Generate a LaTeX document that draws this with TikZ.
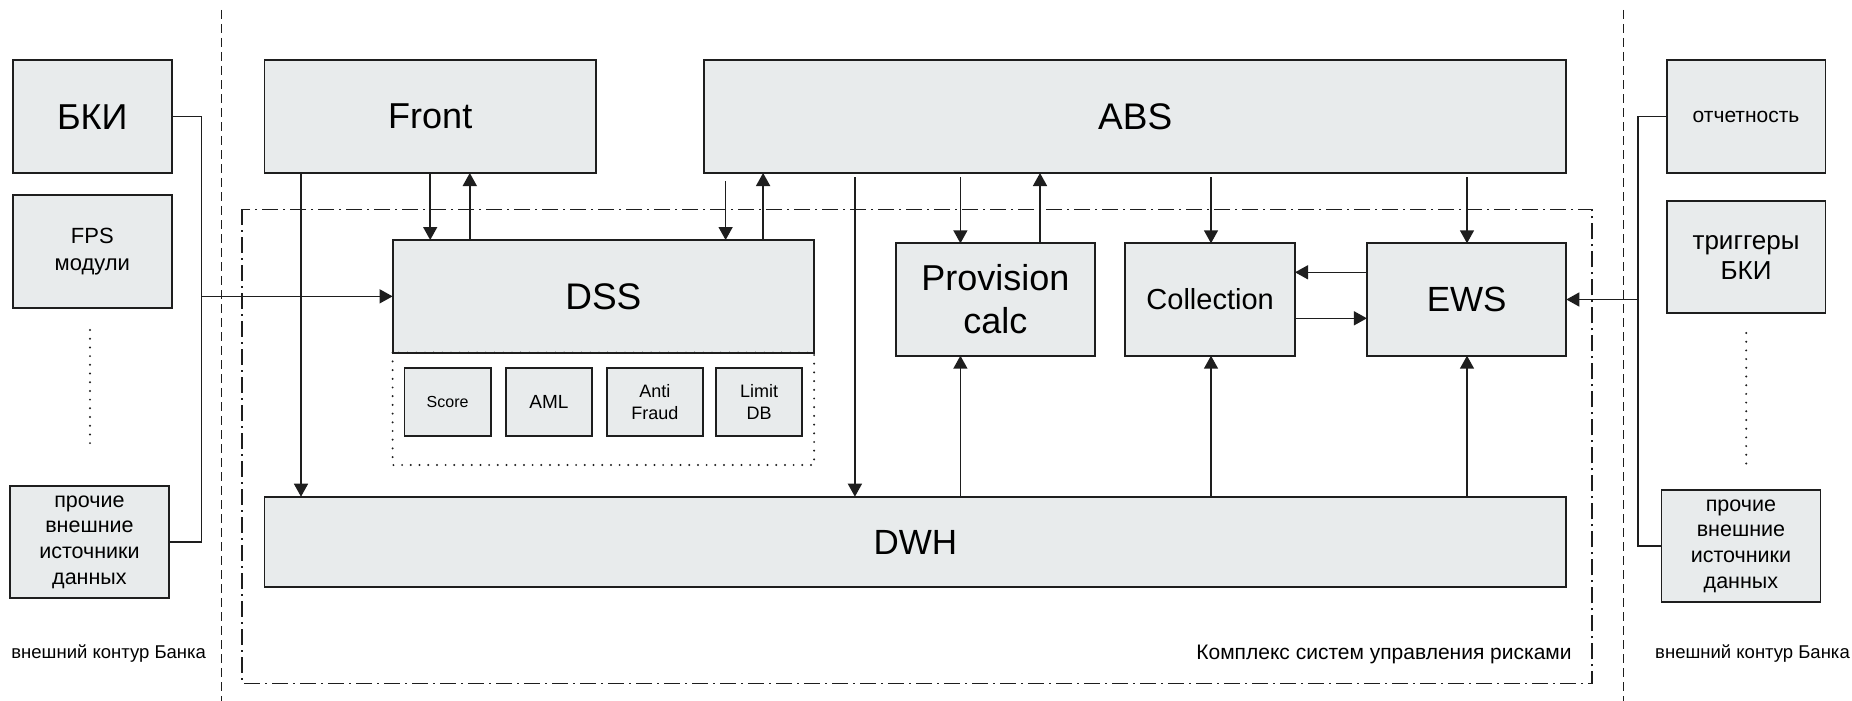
\documentclass[tikz,border=0pt]{standalone}
\usepackage{fontspec}
\setmainfont{Liberation Sans}
\usetikzlibrary{arrows.meta}
\definecolor{boxfill}{RGB}{232,235,236}
\definecolor{edge}{RGB}{30,30,30}
\newcommand{\fsz}[2]{\fontsize{#1}{#2}\selectfont}
\begin{document}
\begin{tikzpicture}[x=1pt,y=-1pt,
  box/.style={draw=edge, fill=boxfill, line width=1.8pt, inner sep=0pt, outer sep=0pt, align=center, text=black},
  arr/.style={line width=1.5pt, draw=edge, -{Triangle[length=13pt,width=14pt]}},
  ln/.style={line width=1.5pt, draw=edge},
  dotln/.style={line width=2.2pt, draw=edge, line cap=round, dash pattern=on 0pt off 8.7pt},
  dashln/.style={line width=1.5pt, draw=edge, dash pattern=on 9pt off 5pt},
  dashdotln/.style={line width=1.5pt, draw=edge, dash pattern=on 16pt off 5pt on 2pt off 5pt},
  lbl/.style={inner sep=0pt, text=black}]
\useasboundingbox (0,0) rectangle (1852,701);

% boundaries
\draw[dashln] (221.4,10) -- (221.4,701);
\draw[dashln] (1623.7,10) -- (1623.7,701);
\draw[dashdotln] (242,209.3) rectangle (1592.1,683.3);

% left external boxes
\node[box, minimum width=159.3pt, minimum height=112.7pt, font=\fsz{36}{42}] (bki) at (92.35,116.65) {БКИ};
\node[box, minimum width=159.3pt, minimum height=112.7pt, font=\fsz{22}{27}] (fps) at (92.35,251.65) {FPS\\модули};
\node[box, minimum width=159pt, minimum height=112.6pt, font=\fsz{21.5}{25.7}] (ol) at (89.45,542) {прочие\\внешние\\источники\\данных};
\draw[dotln] (90,330) -- (90,444);

% right external boxes
\node[box, minimum width=158.9pt, minimum height=112.7pt, font=\fsz{21}{26}] (rep) at (1746.05,116.65) {отчетность};
\node[box, minimum width=158.9pt, minimum height=112.3pt, font=\fsz{26}{30}] (trig) at (1746.05,257.15) {триггеры\\БКИ};
\node[box, minimum width=158.9pt, minimum height=112.3pt, font=\fsz{21.5}{25.7}] (or) at (1740.95,546.15) {прочие\\внешние\\источники\\данных};
\draw[dotln] (1746.2,333) -- (1746.2,465);

% main systems
\node[box, minimum width=331.5pt, minimum height=112.7pt, font=\fsz{36}{42}] (front) at (430.25,116.65) {Front};
\node[box, minimum width=862.1pt, minimum height=112.7pt, font=\fsz{37}{42}] (abs) at (1135.25,116.65) {ABS};
\coordinate (dotb) at (0,465);
\node[box, minimum width=421.5pt, minimum height=112.7pt, font=\fsz{37}{42}] (dss) at (603.35,296.35) {DSS};
\draw[dotln] (dss.south west) rectangle (dss.south east |- dotb);
\node[box, minimum width=199.7pt, minimum height=112.4pt, font=\fsz{36}{43}] (prov) at (995.45,299.5) {Provision\\calc};
\node[box, minimum width=169.7pt, minimum height=112.4pt, font=\fsz{29}{34}] (coll) at (1210.15,299.5) {Collection};
\node[box, minimum width=199.4pt, minimum height=112.4pt, font=\fsz{35}{42}] (ews) at (1466.6,299.5) {EWS};
\node[box, minimum width=1301.8pt, minimum height=90.6pt, font=\fsz{35}{42}] (dwh) at (915.4,542) {DWH};

% DSS modules
\node[box, minimum width=86.2pt, minimum height=67.4pt, font=\fsz{16}{20}] (score) at (447.6,402) {Score};
\node[box, minimum width=86pt, minimum height=67.4pt, font=\fsz{19}{22}] (aml) at (549,402) {AML};
\node[box, minimum width=95.6pt, minimum height=67.4pt, font=\fsz{18}{21.7}] (anti) at (654.8,402) {Anti\\Fraud};
\node[box, minimum width=86.3pt, minimum height=67.4pt, font=\fsz{18}{21.7}] (limit) at (759.15,402) {Limit\\DB};

% labels
\node[lbl, font=\fsz{18.5}{22}] (extl) at (108.7,654) {внешний контур Банка};
\node[lbl, font=\fsz{18.5}{22}] (extr) at (1752.5,654) {внешний контур Банка};
\node[lbl, anchor=east, font=\fsz{21}{25}] (cmplx) at (1571.8,654) {Комплекс систем управления рисками};

% x / y guides
\coordinate (xl) at (201.7,0);
\coordinate (xr) at (1638.1,0);
\coordinate (x1) at (430.2,0);
\coordinate (x2) at (469.8,0);
\coordinate (x3) at (301,0);
\coordinate (x4) at (725.6,0);
\coordinate (x5) at (763.1,0);
\coordinate (x6) at (854.9,0);
\coordinate (x7) at (960.4,0);
\coordinate (x8) at (1040,0);
\coordinate (x9) at (1211,0);
\coordinate (x10) at (1467,0);
\coordinate (y1) at (0,272.3);
\coordinate (y2) at (0,318.3);

% left bus
\draw[ln] (bki.east) -| (xl |- ol.east) -- (ol.east);
\draw[arr] (xl |- dss.west) -- (dss.west);

% right bus
\draw[ln] (rep.west) -| (xr |- or.west) -- (or.west);
\draw[arr] (xr |- ews.east) -- (ews.east);

% Front
\draw[arr] (front.south -| x1) -- (dss.north -| x1);
\draw[arr] (dss.north -| x2) -- (front.south -| x2);
\draw[arr] (front.south -| x3) -- (dwh.north -| x3);

% ABS
\draw[arr, shorten <=8pt] (abs.south -| x4) -- (dss.north -| x4);
\draw[arr] (dss.north -| x5) -- (abs.south -| x5);
\draw[arr, shorten <=4pt] (abs.south -| x6) -- (dwh.north -| x6);
\draw[arr, shorten <=4pt] (abs.south -| x7) -- (prov.north -| x7);
\draw[arr] (prov.north -| x8) -- (abs.south -| x8);
\draw[arr, shorten <=4pt] (abs.south -| x9) -- (coll.north -| x9);
\draw[arr, shorten <=4pt] (abs.south -| x10) -- (ews.north -| x10);

% DWH up
\draw[arr] (dwh.north -| x7) -- (prov.south -| x7);
\draw[arr] (dwh.north -| x9) -- (coll.south -| x9);
\draw[arr] (dwh.north -| x10) -- (ews.south -| x10);

% Collection <-> EWS
\draw[arr] (ews.west |- y1) -- (coll.east |- y1);
\draw[arr] (coll.east |- y2) -- (ews.west |- y2);
\end{tikzpicture}
\end{document}
